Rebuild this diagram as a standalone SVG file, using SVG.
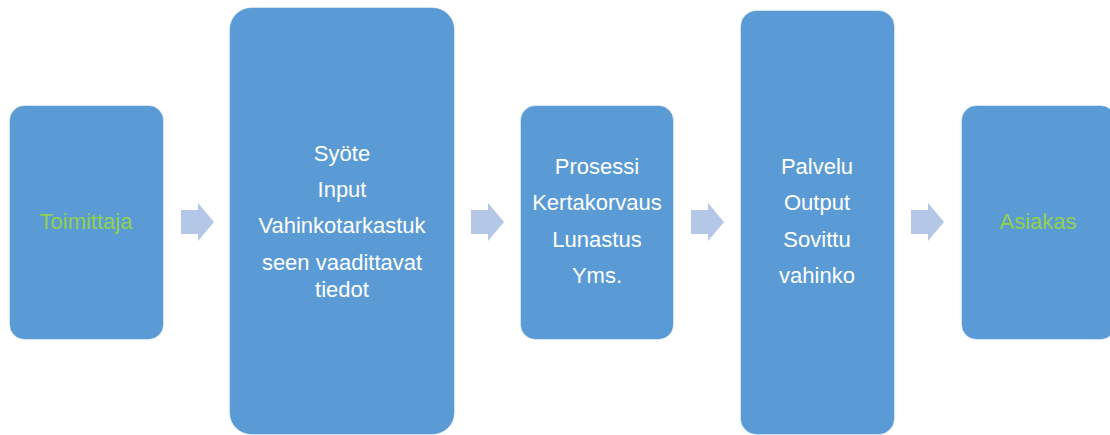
<svg xmlns="http://www.w3.org/2000/svg" width="1110" height="435" viewBox="0 0 1110 435">
  <style>
    .box { fill: #5B9BD5; stroke: #FFFFFF; stroke-opacity: 0.45; stroke-width: 1; }
    .arrow { fill: #B4C7E7; }
    text { font-family: "Liberation Sans", Arial, sans-serif; font-size: 22px; text-anchor: middle; }
    .w { fill: #FFFFFF; }
    .g { fill: #92D050; }
  </style>
  <defs>
    <path id="chev" d="M0,7 H17 V0 L33,19 L17,38 V31 H0 Z"/>
  </defs>

  <g id="connectors">
    <use href="#chev" class="arrow" x="181" y="203"/>
    <use href="#chev" class="arrow" x="471" y="203"/>
    <use href="#chev" class="arrow" x="691" y="203"/>
    <use href="#chev" class="arrow" x="911" y="203"/>
  </g>

  <g id="toimittaja">
    <rect class="box" x="9.5" y="105.5" width="154" height="234" rx="15" ry="15"/>
    <text class="g" x="86" y="229">Toimittaja</text>
  </g>

  <g id="syote">
    <rect class="box" x="229.5" y="7.5" width="225" height="427" rx="22" ry="22"/>
    <text class="w" x="342" y="161">Syöte</text>
    <text class="w" x="342" y="197">Input</text>
    <text class="w" x="342" y="233">Vahinkotarkastuk</text>
    <text class="w" x="342" y="270">seen vaadittavat</text>
    <text class="w" x="342" y="297">tiedot</text>
  </g>

  <g id="prosessi">
    <rect class="box" x="520.5" y="105.5" width="153" height="234" rx="15" ry="15"/>
    <text class="w" x="597" y="174">Prosessi</text>
    <text class="w" x="597" y="210">Kertakorvaus</text>
    <text class="w" x="597" y="247">Lunastus</text>
    <text class="w" x="597" y="283">Yms.</text>
  </g>

  <g id="palvelu">
    <rect class="box" x="740.5" y="10.5" width="154" height="424" rx="16" ry="16"/>
    <text class="w" x="817" y="174">Palvelu</text>
    <text class="w" x="817" y="210">Output</text>
    <text class="w" x="817" y="247">Sovittu</text>
    <text class="w" x="817" y="283">vahinko</text>
  </g>

  <g id="asiakas">
    <rect class="box" x="961.5" y="105.5" width="154" height="234" rx="15" ry="15"/>
    <text class="g" x="1038" y="229">Asiakas</text>
  </g>
</svg>
